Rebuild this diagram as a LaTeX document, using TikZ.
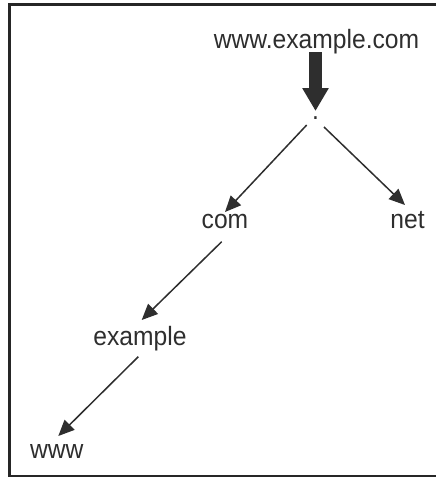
\documentclass[tikz,border=0pt]{standalone}
\usepackage{fontspec}
\setmainfont{Liberation Sans}[FakeStretch=0.93]
\usetikzlibrary{arrows.meta,calc}
\definecolor{ink}{HTML}{2E2E2E}
\tikzset{
  lbl/.style={inner sep=0pt, anchor=base, text=ink, font=\fontsize{26.5}{30}\selectfont},
  link/.style={draw=ink, line width=1.5pt, -{Triangle[length=16pt,width=14pt]}},
  bigarrow/.style={draw=ink, line width=13pt, -{Triangle[length=23pt,width=25pt]}},
  frame/.style={draw=black!85, line width=3pt}
}
\begin{document}
\begin{tikzpicture}[x=1pt,y=-1pt]
\useasboundingbox (0,0) rectangle (436,477);
\draw[frame] (440,4) -- (9.5,4) -- (9.5,476) -- (440,476);
\node[lbl] (wwwcom) at (316.5,48) {www.example.com};
\node[lbl] (dot) at (315.5,119) {.};
\node[lbl] (com) at (225,228) {com};
\node[lbl] (net) at (407.5,228) {net};
\node[lbl] (example) at (140,345) {example};
\node[lbl] (www) at (56.7,458) {www};
\draw[bigarrow] ($(wwwcom.base)+(-1,4)$) -- ($(dot.base)+(0,-8)$);
\draw[link] ($(dot.base)+(-8.8,6)$) -- ($(com.base)+(0,-16)$);
\draw[link] ($(dot.base)+(8.5,8)$) -- ($(net.base)+(-2.5,-23)$);
\draw[link] ($(com.base)+(-3.3,13.7)$) -- ($(example.base)+(1.7,-25)$);
\draw[link] ($(example.base)+(-1.7,11.7)$) -- ($(www.base)+(1.6,-22)$);
\end{tikzpicture}
\end{document}
